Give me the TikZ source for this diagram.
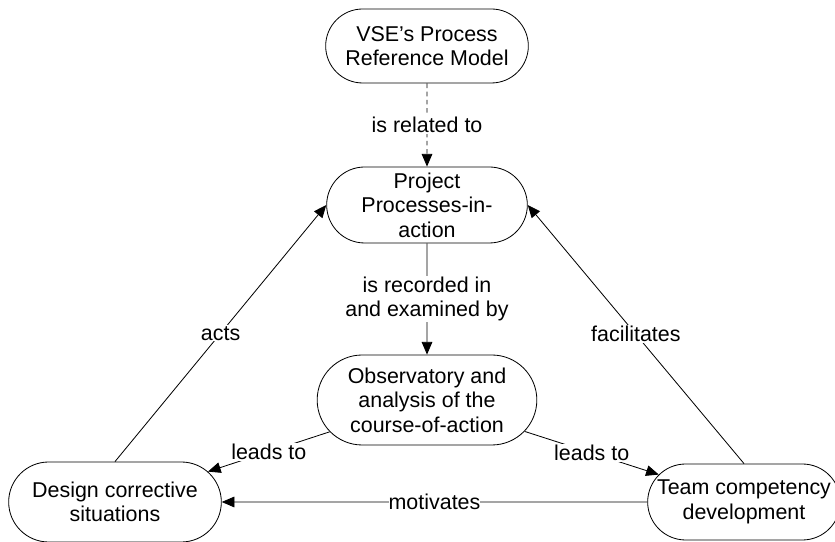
\documentclass[tikz,border=0pt]{standalone}
\usepackage{fontspec}
\setmainfont{Liberation Sans}
\usetikzlibrary{shapes.misc, arrows.meta}
\tikzset{
  phase/.style={
    rounded rectangle,
    draw,
    draw=black,
    line width=0.7pt,
    inner xsep=-1.3cm,
    inner ysep=0pt,
    align=center,
    execute at begin node=\setlength{\baselineskip}{21pt}
  },
  rel/.style={fill=white, inner sep=1pt, align=center}
}
\tikzstyle{arrow} = [-{Triangle[length=0.38cm, width=0.32cm]}, line width=0.7pt]

\begin{document}
\begin{tikzpicture}[font=\fontsize{18.3pt}{21pt}\selectfont]
    \useasboundingbox (0, 0) rectangle (25.05, 16.26);
    \node[phase, minimum width=3.48cm, minimum height=2.22cm] (vse) at (12.81, 14.88) {VSE’s Process\\Reference Model};
    \node[phase, minimum width=3.42cm, minimum height=2.28cm] (proj) at (12.81, 10.11) {Project\\Processes-in-\\action};
    \node[phase, minimum width=3.99cm, minimum height=2.7cm] (obs) at (12.81, 4.26) {Observatory and\\analysis of the\\course-of-action};
    \node[phase, minimum width=3.78cm, minimum height=2.4cm] (design) at (3.45, 1.2) {Design corrective\\situations};
    \node[phase, minimum width=3.18cm, minimum height=2.28cm] (team) at (22.32, 1.2) {Team competency\\development};
    \draw[arrow, dash pattern=on 4pt off 3pt] (vse) to node [rel, pos=0.5] {is related to} (proj);
    \draw[arrow] (proj) to node [rel, pos=0.5] {is recorded in\\and examined by} (obs);
    \draw[arrow] (obs) to node [rel, pos=0.5] {leads to} (design);
    \draw[arrow] (obs) to node [rel, pos=0.5] {leads to} (team);
    \draw[arrow] (design.north) to node [rel, pos=0.5] {acts} (proj.west);
    \draw[arrow] (team.north) to node [rel, pos=0.5] {facilitates} (proj.east);
    \draw[arrow] (team) to node [rel, pos=0.5, inner xsep=0pt] {motivates} (design);
\end{tikzpicture}
\end{document}
